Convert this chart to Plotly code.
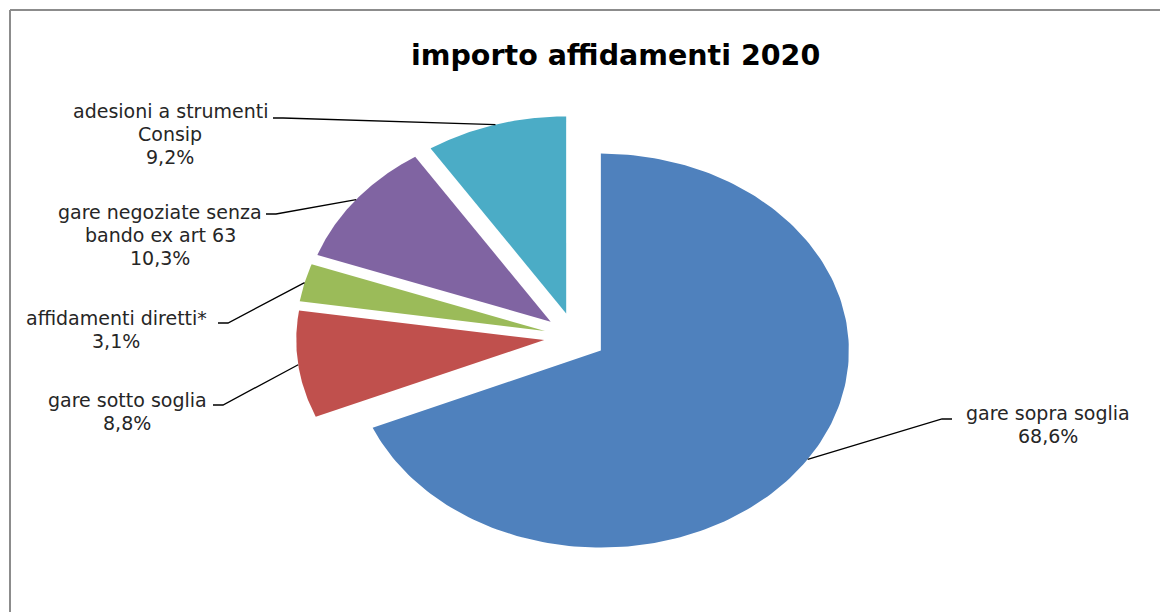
import numpy as np
import plotly.graph_objects as go

# ---- data ----
categories = [["gare sopra soglia"], ["gare sotto soglia"], ["affidamenti diretti*"],
              ["gare negoziate senza", "bando ex art 63"], ["adesioni a strumenti", "Consip"]]
shares = [68.6, 8.8, 3.1, 10.3, 9.2]
share_labels = ["68,6%", "8,8%", "3,1%", "10,3%", "9,2%"]
title_text = "importo affidamenti 2020"

# ---- style / layout ----
colors = ["#4F81BD", "#C0504D", "#9BBB59", "#8064A2", "#4BACC6"]
OFF = 8                    # page body margin (px)
W, H = 1168 - OFF, 612 - OFF
CX, CY = 575, 337          # pie centre (screen px)
RX, RY = 248, 197          # ellipse radii (px)
EXPLODE = 0.125
FONT = "DejaVu Sans"
TXT = "#262626"
LINE_GAP = 23
# label first-line centres (screen px) and leader stub start points (screen px)
label_pos = [(1048, 413), (127, 400), (116, 318), (160, 212), (170, 111)]
leader_start = [(952, 419), (213, 405), (218, 323), (266, 214), (273, 118)]

def px2x(px):
    return (px - CX) / RX

def px2y(py):
    return (CY - py) / RY

fig = go.Figure()
total = sum(shares)
angle = np.pi / 2
for i, v in enumerate(shares):
    sweep = v / total * 2 * np.pi
    a0, a1 = angle, angle - sweep
    mid = (a0 + a1) / 2
    ox, oy = EXPLODE * np.cos(mid), EXPLODE * np.sin(mid)
    t = np.linspace(a0, a1, 200)
    xs = np.concatenate([[ox], ox + np.cos(t), [ox]])
    ys = np.concatenate([[oy], oy + np.sin(t), [oy]])
    fig.add_trace(go.Scatter(x=xs, y=ys, mode="lines", fill="toself",
                             fillcolor=colors[i], line=dict(width=0, color=colors[i]),
                             hoverinfo="skip", showlegend=False))
    # leader line: short horizontal stub, then straight to the slice's mid-arc
    ex, ey = ox + np.cos(mid), oy + np.sin(mid)
    sx, sy = leader_start[i]
    stub = 10 if ex > px2x(sx) else -10
    lx = [px2x(sx), px2x(sx + stub), ex]
    ly = [px2y(sy), px2y(sy), ey]
    fig.add_trace(go.Scatter(x=lx, y=ly, mode="lines",
                             line=dict(color="#000000", width=1.3),
                             hoverinfo="skip", showlegend=False))
    lines = categories[i] + [share_labels[i]]
    lpx, lpy = label_pos[i]
    for k, txt in enumerate(lines):
        fig.add_annotation(x=px2x(lpx), y=px2y(lpy + k * LINE_GAP), text=txt,
                           showarrow=False, xanchor="center", yanchor="middle",
                           font=dict(family=FONT, size=19, color=TXT))
    angle = a1

fig.add_annotation(x=px2x(615), y=px2y(55), text="<b>" + title_text + "</b>", showarrow=False,
                   xanchor="center", yanchor="middle",
                   font=dict(family=FONT, size=28.5, color="#000000"))

# chart border (partially cropped by the window)
bx, by = px2x(10), px2y(10)
fig.add_shape(type="line", x0=bx, x1=bx, y0=px2y(700), y1=by,
              line=dict(color="#8c8c8c", width=2))
fig.add_shape(type="line", x0=bx, x1=px2x(1300), y0=by, y1=by,
              line=dict(color="#8c8c8c", width=2))

fig.update_xaxes(range=[px2x(OFF), px2x(OFF + W)], visible=False, fixedrange=True)
fig.update_yaxes(range=[px2y(OFF + H), px2y(OFF)], visible=False, fixedrange=True)
fig.update_layout(width=W, height=H, margin=dict(l=0, r=0, t=0, b=0),
                  paper_bgcolor="white", plot_bgcolor="white")
fig.write_html("out.html")
